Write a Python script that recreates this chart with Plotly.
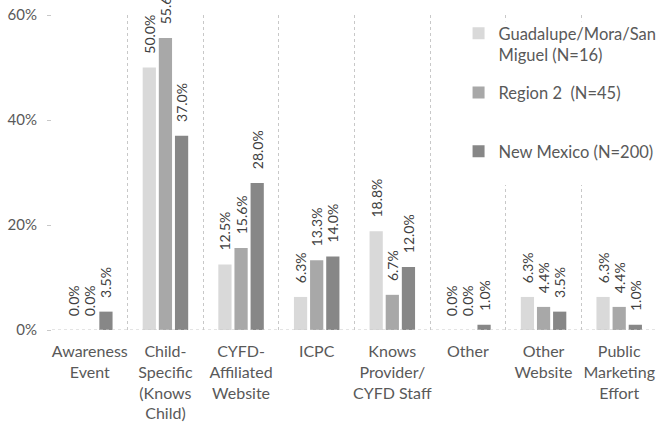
import plotly.graph_objects as go

categories = [
    "Awareness<br>Event",
    "Child-<br>Specific<br>(Knows<br>Child)",
    "CYFD-<br>Affiliated<br>Website",
    "ICPC",
    "Knows<br>Provider/<br>CYFD Staff",
    "Other",
    "Other<br>Website",
    "Public<br>Marketing<br>Effort",
]
series_names = [
    "Guadalupe/Mora/San<br>Miguel (N=16)",
    "Region 2  (N=45)",
    "New Mexico (N=200)",
]
guadalupe = [0.0, 50.0, 12.5, 6.3, 18.8, 0.0, 6.3, 6.3]
region2 = [0.0, 55.6, 15.6, 13.3, 6.7, 0.0, 4.4, 4.4]
new_mexico = [3.5, 37.0, 28.0, 14.0, 12.0, 1.0, 3.5, 1.0]
y_ticks = [0, 20, 40, 60]
y_tick_text = ["0%", "20%", "40%", "60%"]

colors = ["#d9d9d9", "#a8a8a8", "#878787"]
legends = ["legend", "legend2", "legend3"]
FONT = "Lato"
PAD = "\u00a0\u00a0\u00a0"  # visual gap between bar top and rotated label

fig = go.Figure()
for name, vals, col, lg in zip(series_names, [guadalupe, region2, new_mexico], colors, legends):
    fig.add_trace(go.Bar(
        x=categories, y=vals, name=name,
        marker=dict(color=col, line=dict(width=0)),
        text=[f"{PAD}{v:.1f}%" for v in vals],
        textposition="outside", textangle=-90,
        constraintext="none",
        textfont=dict(family=FONT, size=14, color="#404040"),
        cliponaxis=False,
        legend=lg, showlegend=True,
    ))

legend_common = dict(
    bgcolor="rgba(255,255,255,0)",
    font=dict(family=FONT, size=16.5, color="#595959"),
    xanchor="left", yanchor="top",
    itemwidth=30, valign="top",
)

fig.update_layout(
    width=658, height=426,
    margin=dict(l=52, r=1, t=15, b=96, autoexpand=False),
    paper_bgcolor="white", plot_bgcolor="white",
    showlegend=True,
    barmode="group", bargap=0.36, bargroupgap=0.18,
    font=dict(family=FONT, size=15, color="#595959"),
    legend=dict(x=0.672, y=0.997, **legend_common),
    legend2=dict(x=0.672, y=0.809, **legend_common),
    legend3=dict(x=0.672, y=0.622, **legend_common),
    xaxis=dict(
        tickson="boundaries", showgrid=True, griddash="dot",
        gridcolor="#c8c8c8", gridwidth=1, ticks="", showline=False,
        tickfont=dict(family=FONT, size=16, color="#595959"),
        tickangle=0, automargin=False, ticklabelstandoff=10,
    ),
    yaxis=dict(
        range=[0, 60], tickvals=y_ticks, ticktext=y_tick_text,
        showgrid=False, zeroline=False, showline=False,
        ticks="outside", ticklen=4, tickcolor="#c8c8c8",
        tickfont=dict(family=FONT, size=15, color="#595959"),
        automargin=False, ticklabelstandoff=7, ticklabeloverflow="allow",
    ),
    shapes=[
        dict(type="line", xref="paper", yref="y", x0=0, x1=1, y0=0, y1=0,
             line=dict(color="#c8c8c8", width=1, dash="dot"), layer="above"),
        dict(type="rect", xref="paper", yref="paper", x0=0.713, x1=1.0, y0=0.46, y1=0.98,
             fillcolor="white", line=dict(width=0), layer="above"),
    ],
)

# remove the browser's default 8px body margin so the figure fills the window
fig.write_html("out.html", config={"displayModeBar": False},
               post_script="document.body.style.margin='0';")
